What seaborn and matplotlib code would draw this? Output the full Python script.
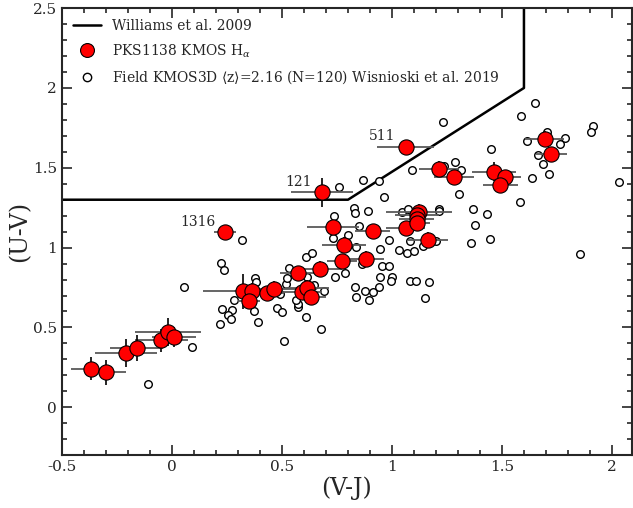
import matplotlib
matplotlib.use('Agg')
import matplotlib.pyplot as plt
from matplotlib.ticker import MultipleLocator, FuncFormatter
import numpy as np
import pandas as pd
import seaborn as sns

# Williams et al. 2009 quiescent box
will_x = [-0.5, 0.80, 1.6, 1.6]
will_y = [1.3, 1.3, 2.0, 2.5]

# PKS1138 KMOS Halpha
pks_vj = [-0.370, -0.300, -0.209, -0.160, -0.049, -0.018, 0.011, 0.240, 0.323, 0.364,
          0.352, 0.431, 0.463, 0.571, 0.590, 0.612, 0.630, 0.674, 0.682, 0.732,
          0.782, 0.773, 0.883, 0.913, 1.063, 1.062, 1.125, 1.114, 1.113, 1.113,
          1.163, 1.213, 1.283, 1.463, 1.515, 1.493, 1.694, 1.724]
pks_uv = [0.242, 0.219, 0.340, 0.371, 0.419, 0.471, 0.440, 1.096, 0.727, 0.727,
          0.665, 0.717, 0.738, 0.838, 0.725, 0.748, 0.688, 0.867, 1.346, 1.127,
          1.017, 0.919, 0.927, 1.106, 1.633, 1.125, 1.225, 1.204, 1.179, 1.154,
          1.048, 1.494, 1.442, 1.475, 1.444, 1.394, 1.683, 1.585]
pks_xerr = [0.09, 0.09, 0.14, 0.12, 0.12, 0.15, 0.10, 0.05, 0.18, 0.08,
            0.05, 0.08, 0.10, 0.08, 0.09, 0.10, 0.07, 0.10, 0.14, 0.12,
            0.10, 0.07, 0.08, 0.08, 0.13, 0.09, 0.15, 0.10, 0.08, 0.06,
            0.09, 0.09, 0.09, 0.10, 0.07, 0.08, 0.09, 0.07]
pks_yerr = [0.07, 0.08, 0.09, 0.08, 0.07, 0.09, 0.06, 0.03, 0.11, 0.05,
            0.04, 0.04, 0.05, 0.04, 0.04, 0.05, 0.04, 0.05, 0.09, 0.04,
            0.05, 0.04, 0.05, 0.04, 0.03, 0.04, 0.05, 0.04, 0.04, 0.04,
            0.05, 0.05, 0.04, 0.06, 0.04, 0.04, 0.05, 0.04]
pks_names = ['1316', '121', '511']
pks_name_x = [0.116, 0.575, 0.956]
pks_name_y = [1.16, 1.41, 1.70]

# Field KMOS3D (Wisnioski et al. 2019)
fld_vj = [-0.108, 0.093, 0.055, 0.224, 0.236, 0.282, 0.228, 0.274, 0.253, 0.269,
          0.219, 0.374, 0.390, 0.379, 0.384, 0.476, 0.499, 0.511, 0.607, 0.677,
          0.571, 0.574, 0.565, 0.516, 0.525, 0.534, 0.489, 0.613, 0.647, 0.689,
          0.610, 0.638, 0.743, 0.788, 0.830, 0.836, 0.757, 0.317, 0.735, 0.732,
          0.802, 0.828, 0.831, 0.836, 0.869, 0.942, 0.965, 1.234, 1.093, 1.236,
          1.285, 1.312, 1.305, 1.449, 1.586, 1.648, 1.613, 1.706, 1.787, 1.764,
          1.665, 1.685, 1.714, 1.635, 1.581, 1.912, 1.907, 2.033, 1.367, 1.432,
          1.379, 1.444, 1.358, 1.854, 0.889, 1.044, 1.075, 1.212, 1.216, 0.848,
          0.944, 0.985, 1.033, 1.067, 1.100, 1.084, 1.140, 1.198, 0.863, 0.874,
          0.956, 0.986, 0.945, 1.001, 0.995, 1.081, 1.108, 1.170, 0.878, 0.915,
          0.939, 0.894, 1.151]
fld_uv = [0.144, 0.375, 0.756, 0.904, 0.861, 0.675, 0.613, 0.611, 0.579, 0.554,
          0.519, 0.602, 0.535, 0.808, 0.783, 0.619, 0.594, 0.415, 0.567, 0.489,
          0.631, 0.648, 0.675, 0.773, 0.808, 0.873, 0.708, 0.814, 0.767, 0.731,
          0.944, 0.964, 0.819, 0.839, 0.756, 0.692, 1.381, 1.050, 1.200, 1.061,
          1.081, 1.248, 1.214, 1.006, 1.425, 1.417, 1.314, 1.786, 1.489, 1.510,
          1.535, 1.483, 1.338, 1.615, 1.823, 1.904, 1.667, 1.725, 1.688, 1.648,
          1.583, 1.521, 1.458, 1.438, 1.283, 1.763, 1.727, 1.408, 1.242, 1.208,
          1.144, 1.056, 1.027, 0.963, 1.231, 1.221, 1.242, 1.242, 1.227, 1.133,
          0.990, 1.048, 0.986, 0.967, 0.979, 1.042, 1.008, 1.044, 0.896, 0.923,
          0.886, 0.886, 0.813, 0.813, 0.788, 0.794, 0.792, 0.786, 0.729, 0.721,
          0.756, 0.673, 0.685]

sns.set_style('ticks')
plt.rcParams['font.family'] = ['DejaVu Serif']
plt.rcParams['mathtext.fontset'] = 'dejavuserif'

fig = plt.figure(figsize=(6.33, 5.08), dpi=100)
ax = fig.add_axes([0.098, 0.104, 0.900, 0.880])

pks = pd.DataFrame({'vj': pks_vj, 'uv': pks_uv})
fld = pd.DataFrame({'vj': fld_vj, 'uv': fld_uv})

ax.plot(will_x, will_y, color='k', lw=1.8, zorder=1, label='Williams et al. 2009')

ax.errorbar(pks_vj, pks_uv, xerr=pks_xerr, fmt='none', ecolor='0.35', elinewidth=1.3, zorder=2)
ax.errorbar(pks_vj, pks_uv, yerr=pks_yerr, fmt='none', ecolor='k', elinewidth=1.2, zorder=2)

sns.scatterplot(data=fld, x='vj', y='uv', ax=ax, marker='o', s=30, facecolor='white',
                edgecolor='k', linewidth=1.0, zorder=1.5)
sns.scatterplot(data=pks, x='vj', y='uv', ax=ax, marker='o', s=120, color='red',
                edgecolor='k', linewidth=0.8, zorder=3)

for name, tx, ty in zip(pks_names, pks_name_x, pks_name_y):
    ax.text(tx, ty, name, fontsize=10, ha='center', va='center')

# legend handles
h1, = ax.plot([], [], color='k', lw=1.8)
h2, = ax.plot([], [], 'o', ms=10, mfc='red', mec='k', mew=0.8, ls='none')
h3, = ax.plot([], [], 'o', ms=6, mfc='white', mec='k', mew=1.0, ls='none')
ax.legend([h1, h2, h3], ['Williams et al. 2009', r'PKS1138 KMOS H$_\alpha$',
                         r'Field KMOS3D $\langle$z$\rangle$=2.16 (N=120) Wisnioski et al. 2019'],
          loc='upper left', frameon=False, fontsize=10, handlelength=2.0,
          borderaxespad=0.4, labelspacing=0.65)

ax.set_xlim(-0.5, 2.09)
ax.set_ylim(-0.3, 2.5)
ax.xaxis.set_major_locator(MultipleLocator(0.5))
ax.xaxis.set_minor_locator(MultipleLocator(0.1))
ax.yaxis.set_major_locator(MultipleLocator(0.5))
ax.yaxis.set_minor_locator(MultipleLocator(0.1))
fmt = FuncFormatter(lambda v, p: '%g' % round(v, 2))
ax.xaxis.set_major_formatter(fmt)
ax.yaxis.set_major_formatter(fmt)
ax.tick_params(which='both', direction='in', top=True, right=True, labelsize=11, width=1.2)
ax.tick_params(which='major', length=7)
ax.tick_params(which='minor', length=3.5)
for sp in ax.spines.values():
    sp.set_linewidth(1.5)

ax.set_xlabel('(V-J)', fontsize=17, labelpad=2)
ax.set_ylabel('(U-V)', fontsize=17, labelpad=1)

fig.savefig('out.png', dpi=100)
